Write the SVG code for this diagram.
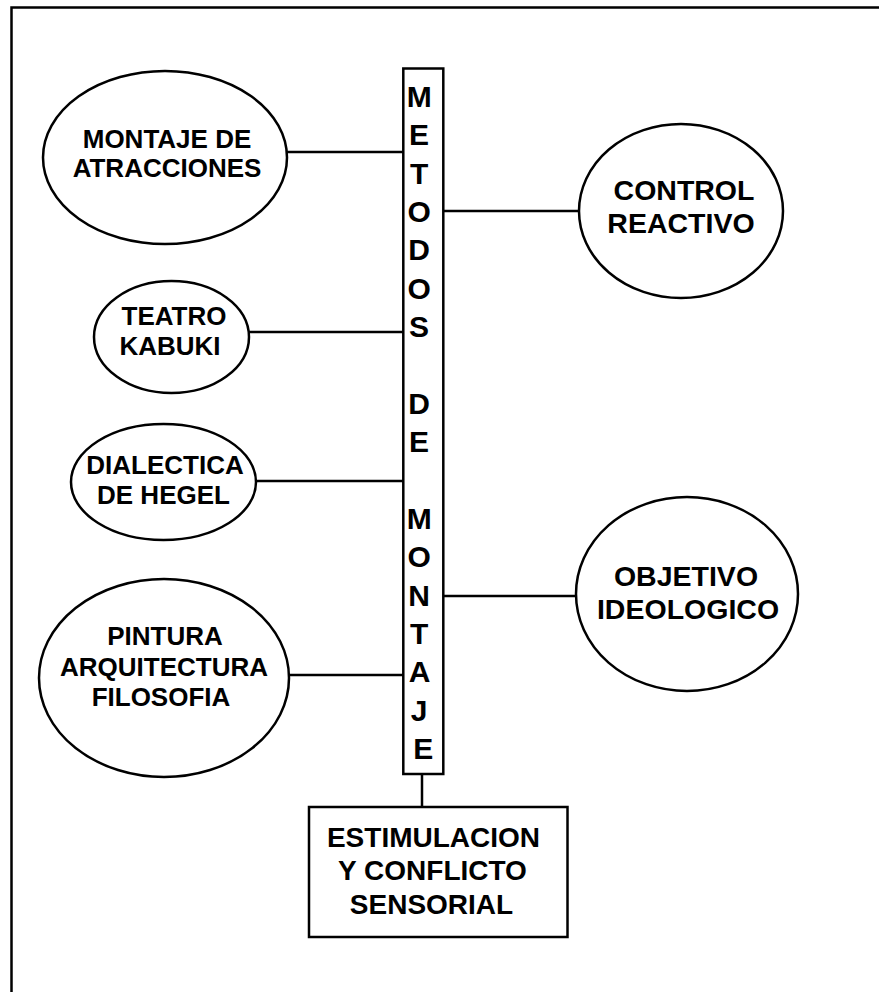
<svg xmlns="http://www.w3.org/2000/svg" width="879" height="992" viewBox="0 0 879 992">
<style>
.shape{fill:#fff;stroke:#000;stroke-width:2.5}
.line{fill:none;stroke:#000;stroke-width:2.5}
.t{font-family:"Liberation Sans",Arial,sans-serif;font-weight:bold;fill:#000;text-anchor:middle}
.s26{font-size:26px}
.s28{font-size:28.5px}
.sb{font-size:28px}
.v{font-size:30px}
</style>
<rect width="879" height="992" fill="#fff"/>
<g id="frame">
<path class="line" d="M11.5 992 V7.5 H879" stroke-width="3"/>
</g>
<g id="connectors">
<line class="line" x1="287" y1="152" x2="403" y2="152"/>
<line class="line" x1="444" y1="211" x2="579" y2="211"/>
<line class="line" x1="249" y1="332" x2="403" y2="332"/>
<line class="line" x1="256" y1="481" x2="403" y2="481"/>
<line class="line" x1="444" y1="596" x2="576" y2="596"/>
<line class="line" x1="289" y1="675" x2="403" y2="675"/>
<line class="line" x1="422" y1="774" x2="422" y2="807"/>
</g>
<g id="metodos">
<rect class="shape" x="403.3" y="68.5" width="40" height="705.5"/>
<text class="t v">
<tspan x="423.3" y="107">M</tspan>
<tspan x="423.3" y="145.4">E</tspan>
<tspan x="423.3" y="183.7">T</tspan>
<tspan x="423.3" y="222">O</tspan>
<tspan x="423.3" y="260.4">D</tspan>
<tspan x="423.3" y="298.8">O</tspan>
<tspan x="423.3" y="337.1">S</tspan>
<tspan x="423.3" y="413.8">D</tspan>
<tspan x="423.3" y="452.2">E</tspan>
<tspan x="423.3" y="528.9">M</tspan>
<tspan x="423.3" y="567.2">O</tspan>
<tspan x="423.3" y="605.6">N</tspan>
<tspan x="423.3" y="643.9">T</tspan>
<tspan x="423.3" y="682.3">A</tspan>
<tspan x="423.3" y="720.6">J</tspan>
<tspan x="423.3" y="759">E</tspan>
</text>
</g>
<g id="montaje-atracciones">
<ellipse class="shape" cx="165" cy="157.5" rx="122" ry="86.5"/>
<text class="t s26"><tspan x="167" y="148">MONTAJE DE</tspan><tspan x="167" y="177">ATRACCIONES</tspan></text>
</g>
<g id="control-reactivo">
<ellipse class="shape" cx="681" cy="211" rx="102" ry="87"/>
<text class="t s28"><tspan x="684" y="200">CONTROL</tspan><tspan x="681" y="233">REACTIVO</tspan></text>
</g>
<g id="teatro-kabuki">
<ellipse class="shape" cx="171.5" cy="337" rx="77.5" ry="56"/>
<text class="t s26"><tspan x="174" y="325">TEATRO</tspan><tspan x="170" y="355">KABUKI</tspan></text>
</g>
<g id="dialectica-hegel">
<ellipse class="shape" cx="163.5" cy="482" rx="92.5" ry="58"/>
<text class="t s26"><tspan x="165" y="474">DIALECTICA</tspan><tspan x="163.5" y="504">DE HEGEL</tspan></text>
</g>
<g id="pintura">
<ellipse class="shape" cx="164" cy="678" rx="125" ry="99"/>
<text class="t s26"><tspan x="165" y="645">PINTURA</tspan><tspan x="164" y="676">ARQUITECTURA</tspan><tspan x="161" y="706">FILOSOFIA</tspan></text>
</g>
<g id="objetivo-ideologico">
<ellipse class="shape" cx="687" cy="594" rx="111" ry="97"/>
<text class="t s28"><tspan x="686" y="586">OBJETIVO</tspan><tspan x="688" y="619">IDEOLOGICO</tspan></text>
</g>
<g id="estimulacion">
<rect class="shape" x="309" y="807" width="258.5" height="130"/>
<text class="t sb"><tspan x="433.5" y="847">ESTIMULACION</tspan><tspan x="432.5" y="880">Y CONFLICTO</tspan><tspan x="431.5" y="914">SENSORIAL</tspan></text>
</g>
</svg>
